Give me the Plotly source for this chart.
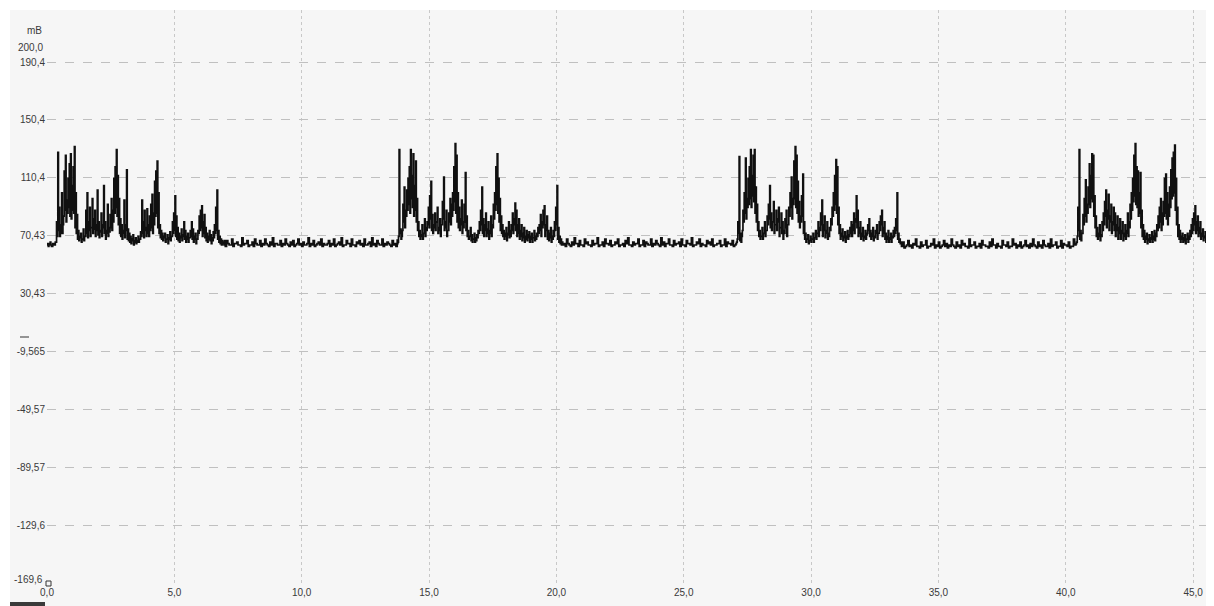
import plotly.graph_objects as go

# ---------------- data ----------------
# Each segment: start time (s), sample step (s), lower and upper level per sample (mB)
burst1_start, burst1_step = 0.0, 0.05
burst1_top = [65, 64, 66, 63, 65, 64, 66, 80, 128, 90, 72, 100, 78, 115, 126, 95, 110, 120, 127, 105,
              118, 132, 100, 85, 74, 70, 72, 68, 75, 70, 88, 100, 80, 90, 76, 96, 82, 88, 78, 102,
              80, 74, 86, 78, 105, 80, 72, 92, 76, 85, 96, 88, 110, 118, 130, 112, 96, 82, 78, 74,
              95, 78, 116, 75, 72, 70, 68, 71, 67, 69, 66, 70, 68, 73, 95, 80, 88, 76, 89, 78,
              84, 92, 99, 86, 108, 115, 122, 100, 78, 74, 72, 70, 72, 68, 71, 69, 73, 70, 80, 86,
              98, 84, 76, 72, 70, 75, 71, 80, 74, 70, 72, 69, 74, 80, 75, 70, 72, 68, 74, 84,
              88, 91, 80, 85, 76, 72, 70, 74, 71, 69, 73, 78, 90, 102, 74, 70, 68, 67, 66, 67]
burst1_low = [64, 63, 65, 64, 63, 65, 64, 66, 70, 74, 70, 78, 72, 84, 88, 80, 86, 90, 84, 82,
              88, 86, 76, 72, 68, 67, 69, 66, 68, 67, 70, 72, 69, 74, 70, 76, 72, 75, 70, 74,
              71, 69, 73, 70, 76, 72, 68, 74, 70, 73, 76, 74, 80, 86, 90, 84, 78, 72, 70, 68,
              72, 69, 74, 68, 67, 66, 65, 67, 64, 66, 65, 67, 66, 68, 70, 72, 69, 74, 70, 72,
              70, 74, 76, 72, 78, 84, 86, 76, 72, 69, 68, 67, 69, 66, 68, 65, 68, 67, 70, 72,
              74, 70, 68, 67, 66, 69, 67, 70, 68, 66, 68, 66, 69, 70, 68, 66, 68, 65, 68, 72,
              74, 76, 70, 72, 69, 67, 66, 68, 67, 65, 67, 69, 72, 74, 68, 66, 65, 64, 65, 64]

quiet1_start, quiet1_step = 7.0, 0.1
quiet1_top = [67, 64, 68, 65, 66, 64, 69, 65, 67, 64, 66, 68, 64, 67, 65, 68, 64, 66, 69, 65,
              64, 67, 65, 68, 64, 66, 67, 64, 68, 65, 66, 64, 69, 65, 67, 64, 66, 68, 65, 64,
              67, 65, 68, 64, 66, 69, 64, 67, 65, 68, 64, 66, 67, 65, 68, 64, 66, 69, 65, 67,
              64, 68, 65, 66, 64, 67, 65, 68]
quiet1_low = [63, 65, 64, 63, 65, 64, 63, 64, 65, 63, 64, 63, 65, 64, 63, 64, 65, 63, 64, 63,
              65, 64, 63, 64, 65, 63, 64, 63, 65, 64, 63, 64, 65, 63, 64, 63, 65, 64, 63, 64,
              65, 63, 64, 63, 65, 64, 63, 64, 65, 63, 64, 63, 65, 64, 63, 64, 65, 63, 64, 63,
              65, 64, 63, 64, 65, 63, 64, 63]

burst2_start, burst2_step = 13.75, 0.05
burst2_top = [66, 130, 75, 70, 92, 104, 88, 102, 110, 118, 130, 112, 127, 105, 122, 96, 80, 74, 71, 78,
              72, 82, 76, 80, 90, 98, 108, 85, 78, 86, 80, 90, 76, 82, 78, 94, 111, 80, 88, 74,
              86, 96, 92, 100, 118, 134, 126, 100, 90, 82, 95, 80, 92, 114, 84, 74, 70, 76, 71, 68,
              72, 69, 71, 74, 80, 88, 104, 82, 78, 86, 75, 80, 72, 84, 78, 92, 100, 118, 127, 110,
              96, 84, 78, 74, 72, 76, 71, 80, 74, 78, 86, 82, 93, 88, 78, 82, 74, 78, 72, 76,
              70, 74, 71, 73, 70, 72, 69, 74, 70, 72, 76, 78, 85, 80, 88, 91, 78, 84, 74, 72,
              76, 70, 74, 80, 90, 105, 76, 70, 68, 66]
burst2_low = [65, 70, 72, 68, 74, 80, 76, 84, 88, 92, 86, 96, 90, 84, 88, 80, 74, 70, 68, 70,
              68, 72, 70, 74, 78, 76, 82, 74, 72, 76, 74, 80, 72, 74, 70, 78, 82, 74, 76, 70,
              74, 80, 78, 84, 88, 94, 86, 80, 76, 74, 78, 72, 76, 80, 74, 70, 68, 70, 67, 66,
              68, 66, 67, 69, 72, 74, 78, 72, 70, 74, 70, 72, 68, 74, 70, 76, 82, 88, 92, 86,
              80, 74, 72, 70, 68, 70, 67, 72, 69, 70, 74, 72, 78, 74, 70, 72, 68, 70, 67, 69,
              66, 68, 67, 69, 66, 68, 66, 69, 67, 68, 70, 72, 74, 70, 76, 78, 70, 74, 68, 67,
              69, 66, 68, 70, 74, 78, 68, 66, 65, 64]

quiet2_start, quiet2_step = 20.25, 0.1
quiet2_top = [65, 68, 64, 66, 69, 65, 67, 64, 68, 66, 64, 67, 65, 69, 64, 66, 68, 65, 67, 64,
              66, 68, 64, 65, 67, 69, 64, 66, 65, 68, 64, 67, 66, 64, 68, 65, 67, 64, 69, 66,
              65, 68, 64, 67, 65, 66, 68, 64, 67, 65, 69, 64, 66, 68, 65, 64, 67, 66, 68, 64,
              65, 67, 64, 68, 66, 65, 67, 64]
quiet2_low = [64, 63, 65, 63, 64, 65, 63, 64, 63, 65, 64, 63, 64, 65, 63, 64, 63, 65, 64, 63,
              64, 65, 63, 64, 63, 65, 64, 63, 64, 65, 63, 64, 63, 65, 64, 63, 64, 65, 63, 64,
              63, 65, 64, 63, 64, 65, 63, 64, 63, 65, 64, 63, 64, 65, 63, 64, 63, 65, 64, 63,
              64, 65, 63, 64, 63, 65, 64, 63]

burst3_start, burst3_step = 27.05, 0.05
burst3_top = [66, 80, 125, 72, 70, 88, 100, 124, 96, 110, 118, 130, 112, 126, 130, 104, 92, 80, 74, 70,
              76, 72, 80, 74, 84, 92, 105, 86, 80, 94, 78, 88, 82, 90, 76, 86, 80, 74, 82, 88,
              78, 90, 100, 111, 96, 122, 132, 126, 108, 94, 84, 98, 113, 80, 72, 68, 71, 67, 70, 68,
              72, 69, 74, 72, 80, 76, 86, 95, 78, 84, 74, 80, 72, 76, 82, 90, 100, 112, 123, 118,
              90, 78, 72, 75, 70, 73, 69, 74, 71, 76, 80, 78, 86, 82, 98, 88, 76, 80, 72, 76,
              70, 74, 71, 78, 82, 74, 72, 76, 70, 74, 78, 72, 80, 84, 88, 76, 80, 72, 70, 74,
              69, 72, 70, 74, 76, 82, 100, 72, 68, 66]
burst3_low = [65, 68, 72, 67, 66, 74, 80, 86, 82, 90, 92, 96, 90, 98, 94, 86, 80, 74, 70, 68,
              70, 68, 72, 70, 74, 78, 82, 76, 74, 80, 72, 78, 74, 80, 70, 76, 72, 68, 72, 76,
              70, 78, 84, 90, 82, 92, 96, 90, 86, 80, 76, 80, 84, 72, 68, 66, 68, 65, 67, 66,
              68, 66, 69, 68, 72, 70, 74, 78, 70, 74, 69, 72, 68, 70, 74, 78, 84, 88, 92, 86,
              78, 72, 68, 70, 67, 69, 66, 70, 68, 70, 72, 70, 74, 72, 80, 76, 70, 72, 68, 70,
              67, 69, 68, 72, 74, 70, 68, 70, 67, 69, 72, 68, 72, 74, 78, 70, 72, 68, 66, 68,
              66, 68, 66, 69, 70, 72, 74, 68, 66, 65]

quiet3_start, quiet3_step = 33.55, 0.1
quiet3_top = [66, 63, 67, 64, 65, 68, 63, 66, 64, 67, 63, 65, 68, 64, 66, 63, 67, 65, 64, 68,
              63, 66, 64, 67, 65, 63, 68, 64, 66, 63, 65, 67, 64, 63, 66, 68, 64, 65, 63, 67,
              64, 66, 63, 68, 65, 64, 66, 63, 67, 64, 65, 68, 63, 66, 64, 67, 63, 65, 68, 64,
              66, 63, 67, 65, 64, 66, 63, 68, 65]
quiet3_low = [63, 62, 64, 63, 62, 64, 63, 62, 63, 64, 62, 63, 64, 62, 63, 62, 64, 63, 62, 63,
              64, 62, 63, 62, 64, 63, 62, 63, 64, 62, 63, 62, 64, 63, 62, 63, 64, 62, 63, 62,
              64, 63, 62, 63, 64, 62, 63, 62, 64, 63, 62, 63, 64, 62, 63, 62, 64, 63, 62, 63,
              64, 62, 63, 62, 64, 63, 62, 63, 64]

burst4_start, burst4_step = 40.40, 0.05
burst4_top = [66, 90, 130, 74, 72, 85, 96, 109, 92, 104, 120, 112, 127, 126, 98, 84, 76, 72, 78, 71,
              80, 86, 94, 102, 88, 99, 84, 92, 80, 90, 86, 78, 84, 76, 82, 74, 80, 72, 78, 74,
              86, 80, 92, 100, 110, 126, 134, 118, 115, 100, 114, 88, 78, 74, 70, 72, 68, 71, 69, 73,
              70, 74, 72, 78, 84, 90, 96, 86, 94, 110, 113, 100, 92, 104, 116, 124, 128, 133, 110, 90,
              78, 74, 70, 72, 69, 71, 68, 72, 70, 74, 78, 82, 86, 91, 80, 84, 76, 80, 72, 75,
              70, 73, 69, 72, 68, 71, 69, 72, 70]
burst4_low = [65, 70, 74, 68, 67, 72, 78, 84, 80, 86, 92, 90, 96, 94, 84, 76, 70, 68, 70, 67,
              70, 74, 78, 84, 76, 82, 74, 80, 72, 78, 74, 70, 74, 68, 72, 68, 72, 67, 70, 68,
              72, 70, 76, 82, 88, 94, 98, 92, 90, 84, 86, 76, 70, 68, 66, 68, 65, 67, 66, 68,
              66, 68, 67, 70, 74, 76, 80, 74, 78, 84, 86, 82, 78, 84, 90, 96, 98, 100, 88, 78,
              70, 68, 66, 68, 66, 67, 65, 68, 66, 68, 70, 72, 74, 78, 72, 74, 70, 72, 68, 70,
              67, 69, 66, 68, 66, 68, 67, 69, 67]

segments = [
    (burst1_start, burst1_step, burst1_low, burst1_top),
    (quiet1_start, quiet1_step, quiet1_low, quiet1_top),
    (burst2_start, burst2_step, burst2_low, burst2_top),
    (quiet2_start, quiet2_step, quiet2_low, quiet2_top),
    (burst3_start, burst3_step, burst3_low, burst3_top),
    (quiet3_start, quiet3_step, quiet3_low, quiet3_top),
    (burst4_start, burst4_step, burst4_low, burst4_top),
]

y_tickvals = [190.4, 150.4, 110.4, 70.43, 30.43, -9.565, -49.57, -89.57, -129.6, -169.6]
y_ticktext = ["190,4", "150,4", "110,4", "70,43", "30,43", "-9,565", "-49,57", "-89,57", "-129,6", "-169,6"]
x_tickvals = [0, 5, 10, 15, 20, 25, 30, 35, 40, 45]
x_ticktext = ["0,0", "5,0", "10,0", "15,0", "20,0", "25,0", "30,0", "35,0", "40,0", "45,0"]
y_unit = "mB"
y_top_label = "200,0"

# ---------------- build series (min / max per sample) ----------------
t, v = [], []
for start, step, lows, tops in segments:
    for i, (lo, hi) in enumerate(zip(lows, tops)):
        t0 = start + i * step
        t.append(round(t0, 4)); v.append(lo)
        t.append(round(t0 + step / 2, 4)); v.append(hi)

# page has an 8px body margin; layout numbers below are in figure pixels
OFF = 8
W, H = 1214, 606
L, R, T, B = 47 - OFF, OFF, 10 - OFF, 606 - 583 + OFF
pw, ph = W - L - R, H - T - B

def px_x(px):
    # screenshot pixel -> paper fraction
    return (px - OFF - L) / pw

def px_y(py):
    return 1 - (py - OFF - T) / ph

fig = go.Figure()
fig.add_trace(go.Scatter(
    x=t, y=v, mode="lines", line=dict(color="#101010", width=1.7, shape="hv"),
    hoverinfo="skip", showlegend=False,
))

font = dict(family="Liberation Sans, Arial, sans-serif", size=10, color="#3a3a3a")

# bottom y label is drawn as an annotation slightly above its gridline (as in the original)
y_ticktext_axis = y_ticktext[:-1] + [""]

fig.update_layout(
    width=W, height=H,
    margin=dict(l=L, r=R, t=T, b=B, autoexpand=False),
    paper_bgcolor="#ffffff",
    plot_bgcolor="#f6f6f6",
    showlegend=False,
    xaxis=dict(
        range=[0, 45.82], tickvals=x_tickvals, ticktext=x_ticktext, automargin=False,
        showgrid=True, gridcolor="#c8c8c8", griddash="dot", gridwidth=1,
        zeroline=False, showline=False, ticks="", tickfont=font, ticklabelstandoff=2,
    ),
    yaxis=dict(
        range=[-169.6, 226.4], tickvals=y_tickvals, ticktext=y_ticktext_axis, automargin=False,
        showgrid=True, gridcolor="#c0c0c0", griddash="dash", gridwidth=1,
        zeroline=False, showline=False, ticks="", tickfont=font, ticklabelstandoff=1,
    ),
    shapes=[
        # light panel behind labels
        dict(type="rect", xref="paper", yref="paper",
             x0=px_x(10), x1=px_x(1214), y0=px_y(606), y1=px_y(10),
             fillcolor="#f6f6f6", line=dict(width=0), layer="below"),
        # short marker line near -9,565 label
        dict(type="line", xref="paper", yref="paper",
             x0=px_x(20), x1=px_x(29), y0=px_y(337), y1=px_y(337),
             line=dict(color="#333333", width=1)),
        # small square at origin
        dict(type="rect", xref="paper", yref="paper",
             x0=px_x(46), x1=px_x(51), y0=px_y(586), y1=px_y(581),
             fillcolor="rgba(0,0,0,0)", line=dict(color="#333333", width=1)),
        # dark strip at bottom left
        dict(type="rect", xref="paper", yref="paper",
             x0=px_x(10), x1=px_x(45), y0=px_y(606), y1=px_y(602),
             fillcolor="#3a3a3a", line=dict(width=0)),
    ],
    annotations=[
        dict(text=y_unit, xref="paper", yref="paper", x=px_x(44), y=px_y(31),
             xanchor="right", yanchor="middle", showarrow=False, font=font),
        dict(text=y_top_label, xref="paper", yref="paper", x=px_x(45), y=px_y(47),
             xanchor="right", yanchor="middle", showarrow=False, font=font),
        dict(text=y_ticktext[-1], xref="paper", yref="paper", x=px_x(45), y=px_y(579),
             xanchor="right", yanchor="middle", showarrow=False, font=font),
    ],
)

fig.write_html("out.html")
